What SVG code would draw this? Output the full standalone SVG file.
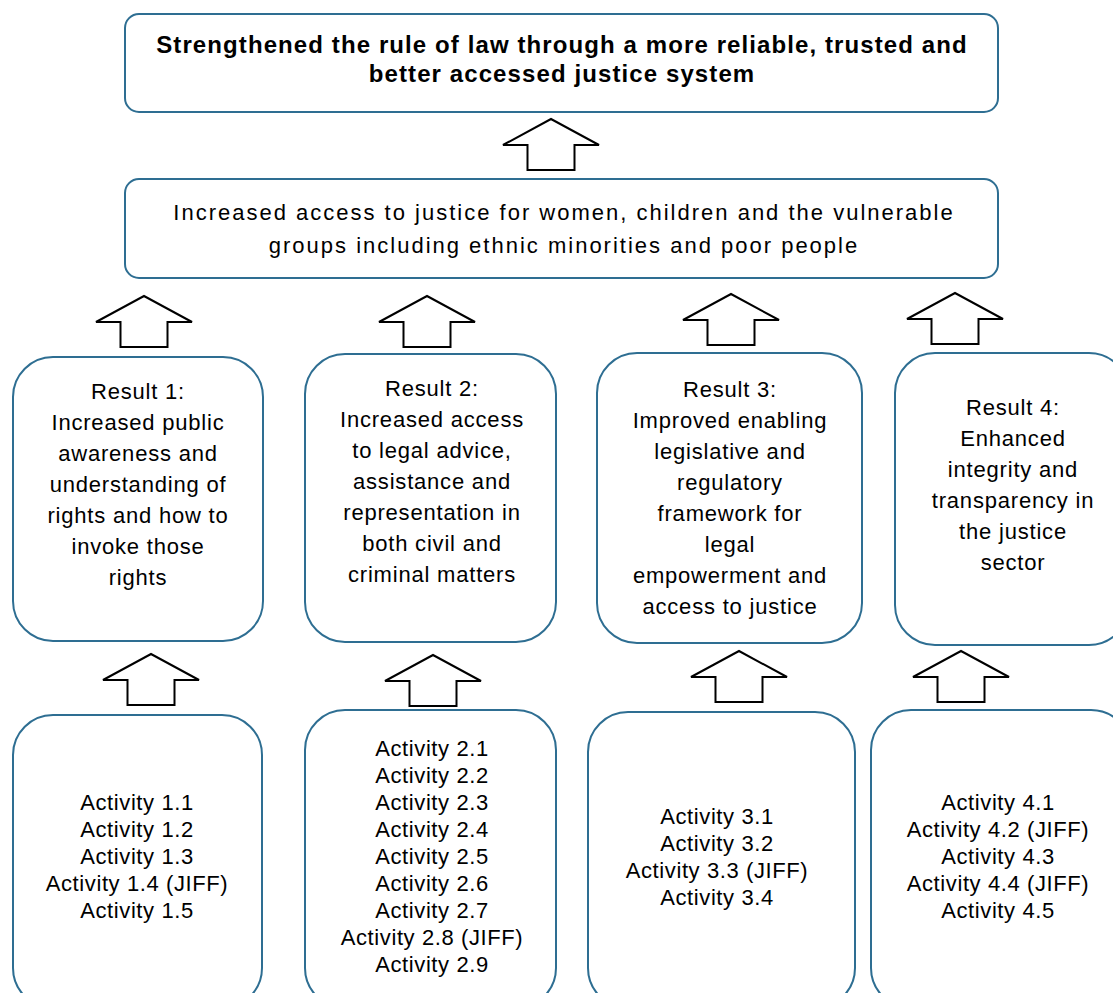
<svg xmlns="http://www.w3.org/2000/svg" width="1113" height="993" viewBox="0 0 1113 993">
<style>
.box{fill:#fff;stroke:#2e6e92;stroke-width:2}
.arr{fill:#fff;stroke:#000;stroke-width:2;stroke-linejoin:miter}
text{font-family:"Liberation Sans",Arial,sans-serif;fill:#000;text-anchor:middle}
.b{font-size:24px;font-weight:bold;letter-spacing:1.1px}
.g{font-size:22px;letter-spacing:2px}
.r{font-size:22px;letter-spacing:0.8px}
.a{font-size:22px;letter-spacing:0.6px}
</style>
<defs>
<path id="up" d="M0,0 L48,26 L23.5,26 L23.5,51 L-23.5,51 L-23.5,26 L-48,26 Z"/>
</defs>
<rect width="1113" height="993" fill="#fff"/>
<g id="connectors">
<use href="#up" class="arr" x="551" y="119"/>
<use href="#up" class="arr" x="144" y="296"/>
<use href="#up" class="arr" x="427" y="296"/>
<use href="#up" class="arr" x="731" y="294"/>
<use href="#up" class="arr" x="955" y="293"/>
<use href="#up" class="arr" x="151" y="654"/>
<use href="#up" class="arr" x="433" y="655"/>
<use href="#up" class="arr" x="739" y="651"/>
<use href="#up" class="arr" x="961" y="651"/>
</g>
<g id="goal">
<rect class="box" x="125" y="14" width="873" height="98" rx="14"/>
<text class="b" x="562" y="53">Strengthened the rule of law through a more reliable, trusted and</text>
<text class="b" x="562" y="82">better accessed justice system</text>
</g>
<g id="purpose">
<rect class="box" x="125" y="179" width="873" height="99" rx="14"/>
<text class="g" x="564" y="220">Increased access to justice for women, children and the vulnerable</text>
<text class="g" x="564" y="253">groups including ethnic minorities and poor people</text>
</g>
<g id="result1">
<rect class="box" x="13" y="357" width="250" height="284" rx="40"/>
<text class="r" x="138" y="399">Result 1:</text>
<text class="r" x="138" y="430">Increased public</text>
<text class="r" x="138" y="461">awareness and</text>
<text class="r" x="138" y="492">understanding of</text>
<text class="r" x="138" y="523">rights and how to</text>
<text class="r" x="138" y="554">invoke those</text>
<text class="r" x="138" y="585">rights</text>
</g>
<g id="result2">
<rect class="box" x="305" y="354" width="251" height="288" rx="40"/>
<text class="r" x="432" y="396">Result 2:</text>
<text class="r" x="432" y="427">Increased access</text>
<text class="r" x="432" y="458">to legal advice,</text>
<text class="r" x="432" y="489">assistance and</text>
<text class="r" x="432" y="520">representation in</text>
<text class="r" x="432" y="551">both civil and</text>
<text class="r" x="432" y="582">criminal matters</text>
</g>
<g id="result3">
<rect class="box" x="597" y="353" width="265" height="290" rx="40"/>
<text class="r" x="730" y="397">Result 3:</text>
<text class="r" x="730" y="428">Improved enabling</text>
<text class="r" x="730" y="459">legislative and</text>
<text class="r" x="730" y="490">regulatory</text>
<text class="r" x="730" y="521">framework for</text>
<text class="r" x="730" y="552">legal</text>
<text class="r" x="730" y="583">empowerment and</text>
<text class="r" x="730" y="614">access to justice</text>
</g>
<g id="result4">
<rect class="box" x="895" y="353" width="234" height="292" rx="40"/>
<text class="r" x="1013" y="415">Result 4:</text>
<text class="r" x="1013" y="446">Enhanced</text>
<text class="r" x="1013" y="477">integrity and</text>
<text class="r" x="1013" y="508">transparency in</text>
<text class="r" x="1013" y="539">the justice</text>
<text class="r" x="1013" y="570">sector</text>
</g>
<g id="activities1">
<rect class="box" x="13" y="715" width="249" height="293" rx="40"/>
<text class="a" x="137" y="810">Activity 1.1</text>
<text class="a" x="137" y="837">Activity 1.2</text>
<text class="a" x="137" y="864">Activity 1.3</text>
<text class="a" x="137" y="891">Activity 1.4 (JIFF)</text>
<text class="a" x="137" y="918">Activity 1.5</text>
</g>
<g id="activities2">
<rect class="box" x="305" y="710" width="251" height="298" rx="40"/>
<text class="a" x="432" y="756">Activity 2.1</text>
<text class="a" x="432" y="783">Activity 2.2</text>
<text class="a" x="432" y="810">Activity 2.3</text>
<text class="a" x="432" y="837">Activity 2.4</text>
<text class="a" x="432" y="864">Activity 2.5</text>
<text class="a" x="432" y="891">Activity 2.6</text>
<text class="a" x="432" y="918">Activity 2.7</text>
<text class="a" x="432" y="945">Activity 2.8 (JIFF)</text>
<text class="a" x="432" y="972">Activity 2.9</text>
</g>
<g id="activities3">
<rect class="box" x="588" y="712" width="267" height="296" rx="40"/>
<text class="a" x="717" y="824">Activity 3.1</text>
<text class="a" x="717" y="851">Activity 3.2</text>
<text class="a" x="717" y="878">Activity 3.3 (JIFF)</text>
<text class="a" x="717" y="905">Activity 3.4</text>
</g>
<g id="activities4">
<rect class="box" x="871" y="710" width="260" height="298" rx="40"/>
<text class="a" x="998" y="810">Activity 4.1</text>
<text class="a" x="998" y="837">Activity 4.2 (JIFF)</text>
<text class="a" x="998" y="864">Activity 4.3</text>
<text class="a" x="998" y="891">Activity 4.4 (JIFF)</text>
<text class="a" x="998" y="918">Activity 4.5</text>
</g>
</svg>
